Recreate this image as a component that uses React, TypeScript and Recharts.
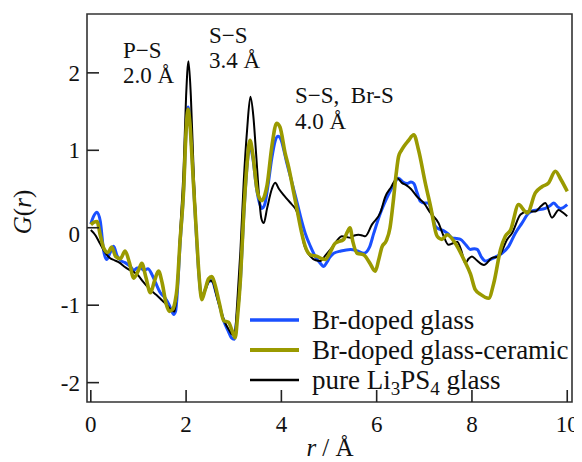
import React from "react";
import {
  LineChart,
  Line,
  XAxis,
  YAxis,
  ReferenceArea,
  Customized,
} from "recharts";

// ---------- data ----------
const rBlue = [0, 0.06, 0.13, 0.2, 0.27, 0.33, 0.4, 0.48, 0.55, 0.62, 0.72, 0.83, 0.9, 0.97, 1.04, 1.12, 1.2, 1.28, 1.36, 1.46, 1.55, 1.64, 1.74, 1.78, 1.82, 1.87, 1.95, 2.0, 2.04, 2.08, 2.12, 2.16, 2.22, 2.27, 2.33, 2.4, 2.47, 2.54, 2.62, 2.7, 2.79, 2.88, 2.95, 3.01, 3.06, 3.14, 3.21, 3.28, 3.34, 3.4, 3.48, 3.55, 3.59, 3.65, 3.72, 3.8, 3.87, 3.93, 3.99, 4.06, 4.12, 4.19, 4.3, 4.4, 4.5, 4.61, 4.72, 4.82, 4.89, 4.95, 5.02, 5.1, 5.25, 5.45, 5.6, 5.73, 5.85, 5.94, 6.08, 6.25, 6.35, 6.46, 6.55, 6.64, 6.72, 6.78, 6.85, 6.92, 7.0, 7.09, 7.16, 7.23, 7.32, 7.41, 7.5, 7.58, 7.68, 7.76, 7.87, 7.97, 8.05, 8.11, 8.2, 8.28, 8.38, 8.46, 8.55, 8.63, 8.77, 8.91, 9.05, 9.19, 9.28, 9.37, 9.54, 9.63, 9.72, 9.8, 9.86, 10.0];
const gBlue = [0.05, 0.15, 0.2, 0.08, -0.3, -0.41, -0.33, -0.24, -0.36, -0.42, -0.45, -0.5, -0.55, -0.52, -0.52, -0.55, -0.53, -0.6, -0.71, -0.84, -0.9, -0.99, -1.12, -1.08, -0.8, -0.25, 0.5, 1.25, 1.56, 1.38, 0.97, 0.5, -0.15, -0.62, -0.9, -0.8, -0.7, -0.68, -0.82, -1.0, -1.2, -1.33, -1.42, -1.44, -1.2, -0.68, 0.15, 0.8, 1.06, 0.9, 0.5, 0.3, 0.25, 0.3, 0.55, 0.9, 1.12, 1.18, 1.14, 0.98, 0.82, 0.66, 0.4, 0.15, -0.07, -0.24, -0.38, -0.46, -0.5, -0.45, -0.38, -0.33, -0.3, -0.28, -0.3, -0.33, -0.25, -0.07, 0.19, 0.43, 0.55, 0.64, 0.59, 0.57, 0.59, 0.57, 0.45, 0.34, 0.32, 0.32, 0.18, 0.02, -0.02, -0.04, -0.08, -0.13, -0.14, -0.15, -0.22, -0.28, -0.27, -0.28, -0.38, -0.43, -0.41, -0.39, -0.36, -0.33, -0.24, -0.07, 0.06, 0.19, 0.22, 0.23, 0.25, 0.28, 0.32, 0.27, 0.25, 0.3];

const rOlive = [0, 0.06, 0.13, 0.2, 0.27, 0.36, 0.44, 0.52, 0.62, 0.72, 0.81, 0.9, 1.0, 1.07, 1.16, 1.25, 1.34, 1.42, 1.5, 1.58, 1.65, 1.72, 1.77, 1.81, 1.87, 1.95, 2.0, 2.04, 2.08, 2.12, 2.16, 2.22, 2.27, 2.33, 2.4, 2.47, 2.54, 2.6, 2.7, 2.79, 2.89, 2.96, 3.03, 3.08, 3.14, 3.21, 3.28, 3.34, 3.4, 3.49, 3.55, 3.59, 3.65, 3.7, 3.8, 3.9, 3.97, 4.08, 4.15, 4.26, 4.33, 4.42, 4.5, 4.61, 4.75, 4.85, 4.92, 5.02, 5.13, 5.31, 5.38, 5.44, 5.5, 5.59, 5.73, 5.85, 5.97, 6.04, 6.11, 6.2, 6.28, 6.35, 6.41, 6.46, 6.52, 6.57, 6.66, 6.78, 6.88, 7.02, 7.13, 7.27, 7.37, 7.48, 7.65, 7.83, 7.97, 8.07, 8.18, 8.35, 8.46, 8.6, 8.7, 8.81, 8.98, 9.1, 9.16, 9.33, 9.47, 9.61, 9.75, 9.87, 10.0];
const gOlive = [0.04, 0.07, 0.08, -0.1, -0.26, -0.32, -0.25, -0.37, -0.4, -0.3, -0.45, -0.65, -0.55, -0.46, -0.65, -0.84, -0.68, -0.56, -0.72, -0.98, -1.08, -1.05, -0.95, -0.78, -0.2, 0.51, 1.25, 1.53, 1.35, 0.95, 0.51, -0.1, -0.6, -0.93, -0.8, -0.66, -0.63, -0.72, -0.98, -1.2, -1.22, -1.32, -1.42, -1.15, -0.67, 0.19, 0.83, 1.13, 0.95, 0.49, 0.37, 0.35, 0.42, 0.55, 1.05, 1.35, 1.3, 0.96, 0.79, 0.45, 0.23, -0.05, -0.24, -0.35, -0.37, -0.4, -0.41, -0.32, -0.2, -0.15, -0.06, 0.0, -0.18, -0.33, -0.35, -0.45, -0.56, -0.42, -0.25, -0.17, 0.0, 0.35, 0.7, 0.92, 1.0, 1.05, 1.12, 1.2, 1.0, 0.58, 0.28, -0.11, -0.15, -0.09, -0.2, -0.41, -0.6, -0.8, -0.86, -0.91, -0.71, -0.28, -0.11, -0.03, 0.3, 0.22, 0.19, 0.45, 0.53, 0.58, 0.73, 0.62, 0.47];

const rBlack = [0, 0.1, 0.19, 0.3, 0.4, 0.5, 0.6, 0.7, 0.8, 0.9, 1.0, 1.1, 1.2, 1.3, 1.4, 1.5, 1.6, 1.7, 1.76, 1.81, 1.87, 1.95, 2.0, 2.05, 2.1, 2.16, 2.22, 2.27, 2.33, 2.4, 2.5, 2.56, 2.64, 2.72, 2.8, 2.9, 2.97, 3.02, 3.07, 3.14, 3.21, 3.28, 3.35, 3.41, 3.47, 3.52, 3.58, 3.63, 3.7, 3.8, 3.87, 3.95, 4.05, 4.12, 4.22, 4.33, 4.4, 4.47, 4.61, 4.72, 4.82, 4.92, 5.03, 5.15, 5.27, 5.37, 5.45, 5.53, 5.62, 5.7, 5.76, 5.9, 6.08, 6.18, 6.3, 6.43, 6.53, 6.62, 6.72, 6.85, 6.99, 7.13, 7.3, 7.4, 7.51, 7.6, 7.69, 7.78, 7.86, 7.93, 8.0, 8.1, 8.25, 8.42, 8.56, 8.74, 8.84, 9.02, 9.16, 9.33, 9.45, 9.54, 9.68, 9.82, 9.9, 10.0];
const gBlack = [-0.03, -0.1, -0.2, -0.32, -0.39, -0.42, -0.45, -0.5, -0.54, -0.57, -0.62, -0.7, -0.77, -0.83, -0.88, -0.94, -1.0, -1.07, -1.08, -0.8, -0.1, 0.8, 1.7, 2.15, 1.7, 0.7, -0.1, -0.6, -0.88, -0.8, -0.68, -0.7, -0.88, -1.05, -1.2, -1.32, -1.38, -1.38, -1.0, -0.3, 0.6, 1.26, 1.69, 1.45, 0.95, 0.5, 0.12, 0.06, 0.25, 0.5, 0.58, 0.5, 0.42, 0.37, 0.3, 0.2, 0.02, -0.2, -0.37, -0.42, -0.43, -0.36, -0.28, -0.18, -0.11, -0.12, -0.13, -0.1, -0.09, -0.1, -0.11, 0.04, 0.2, 0.4, 0.52, 0.64, 0.58, 0.55, 0.5, 0.4, 0.32, 0.19, 0.06, -0.1, -0.22, -0.2, -0.18, -0.3, -0.46, -0.4, -0.37, -0.42, -0.48, -0.39, -0.37, -0.15, -0.07, 0.17, 0.21, 0.21, 0.28, 0.32, 0.13, 0.23, 0.2, 0.15];

const xTicks = [0, 2, 4, 6, 8, 10];
const yTicks = [-2, -1, 0, 1, 2];
const xDomain: [number, number] = [-0.08, 10.1];
const yDomain: [number, number] = [-2.25, 2.76];

const seriesNames = ["Br-doped glass", "Br-doped glass-ceramic", "pure Li3PS4 glass"];
const seriesColors = ["#1a50ff", "#9a9a00", "#000000"];
const seriesWidths = [3, 3.6, 2];

const toPoints = (rs: number[], gs: number[]) => rs.map((r, i) => ({ r, g: gs[i] }));
const blueData = toPoints(rBlue, gBlue);
const oliveData = toPoints(rOlive, gOlive);
const blackData = toPoints(rBlack, gBlack);

const FONT = "'Liberation Serif', 'Times New Roman', Times, serif";
const serif = (size: number, extra: any = {}) => ({ fontFamily: FONT, fontSize: size, ...extra });

const XTick = (props: any) => {
  const { x, y, payload } = props;
  return (
    <g>
      <line x1={x} y1={y} x2={x} y2={y - 12} stroke="#222" strokeWidth={1.6} />
      <text x={x} y={y + 30} textAnchor="middle" fill="#111" style={serif(23)}>
        {payload.value}
      </text>
    </g>
  );
};

const YTick = (props: any) => {
  const { x, y, payload } = props;
  const shift = payload.value === 0 ? 6 : 0;
  return (
    <g>
      <line x1={x} y1={y} x2={x + 12} y2={y} stroke="#222" strokeWidth={1.6} />
      <text x={x - 7} y={y + 8 + shift} textAnchor="end" fill="#111" style={serif(23)}>
        {payload.value}
      </text>
    </g>
  );
};

const Overlay = () => {
  const legendY = [312, 342, 372];
  return (
    <g fill="#111">
      {/* annotations */}
      <text x={115} y={50} style={serif(23)}>P−S</text>
      <text x={115} y={75} style={serif(23)}>2.0 Å</text>
      <text x={201} y={35} style={serif(23)}>S−S</text>
      <text x={201} y={60} style={serif(23)}>3.4 Å</text>
      <text x={287} y={95} style={serif(23, { whiteSpace: "pre" })}>S−S,  Br-S</text>
      <text x={287} y={121} style={serif(23)}>4.0 Å</text>
      {/* axis labels */}
      <text x={23} y={204} textAnchor="middle" transform="rotate(-90 23 204)" style={serif(25)}>
        <tspan style={{ fontStyle: "italic" }}>G</tspan>(<tspan style={{ fontStyle: "italic" }}>r</tspan>)
      </text>
      <text x={322} y={448} textAnchor="middle" style={serif(25, { whiteSpace: "pre" })}>
        <tspan style={{ fontStyle: "italic" }}>r</tspan> / Å
      </text>
      {/* legend */}
      {legendY.map((ly, i) => (
        <g key={i}>
          <line x1={242} y1={ly} x2={291} y2={ly} stroke={seriesColors[i]} strokeWidth={seriesWidths[i] + 0.4} />
          {i < 2 ? (
            <text x={304} y={ly + 9} style={serif(27)}>{seriesNames[i]}</text>
          ) : (
            <text x={304} y={ly + 9} style={serif(27, { whiteSpace: "pre" })}>
              pure Li<tspan style={{ fontSize: 19 }} dy={6}>3</tspan>
              <tspan dy={-6}>PS</tspan>
              <tspan style={{ fontSize: 19 }} dy={6}>4</tspan>
              <tspan dy={-6}> glass</tspan>
            </text>
          )}
        </g>
      ))}
    </g>
  );
};

export default function App() {
  return (
    <LineChart
      width={574}
      height={454}
      margin={{ top: 6, right: 10, left: 0, bottom: 30 }}
      style={{ fontFamily: FONT }}
    >
      <XAxis
        dataKey="r"
        type="number"
        domain={xDomain}
        ticks={xTicks}
        allowDataOverflow
        axisLine={false}
        tickLine={false}
        tickSize={0}
        tickMargin={0}
        height={30}
        tick={<XTick />}
        interval={0}
      />
      <YAxis
        dataKey="g"
        type="number"
        domain={yDomain}
        ticks={yTicks}
        allowDataOverflow
        axisLine={false}
        tickLine={false}
        tickSize={0}
        tickMargin={0}
        width={79}
        tick={<YTick />}
        interval={0}
      />
      <ReferenceArea
        x1={xDomain[0]}
        x2={xDomain[1]}
        y1={yDomain[0]}
        y2={yDomain[1]}
        fill="none"
        stroke="#333"
        strokeWidth={1.6}
        ifOverflow="visible"
      />
      <Line data={blueData} dataKey="g" type="monotone" stroke={seriesColors[0]} strokeWidth={seriesWidths[0]} dot={false} isAnimationActive={false} name={seriesNames[0]} />
      <Line data={blackData} dataKey="g" type="monotone" stroke={seriesColors[2]} strokeWidth={seriesWidths[2]} dot={false} isAnimationActive={false} name={seriesNames[2]} />
      <Line data={oliveData} dataKey="g" type="monotone" stroke={seriesColors[1]} strokeWidth={seriesWidths[1]} dot={false} isAnimationActive={false} name={seriesNames[1]} />
      <Customized component={Overlay} />
    </LineChart>
  );
}
